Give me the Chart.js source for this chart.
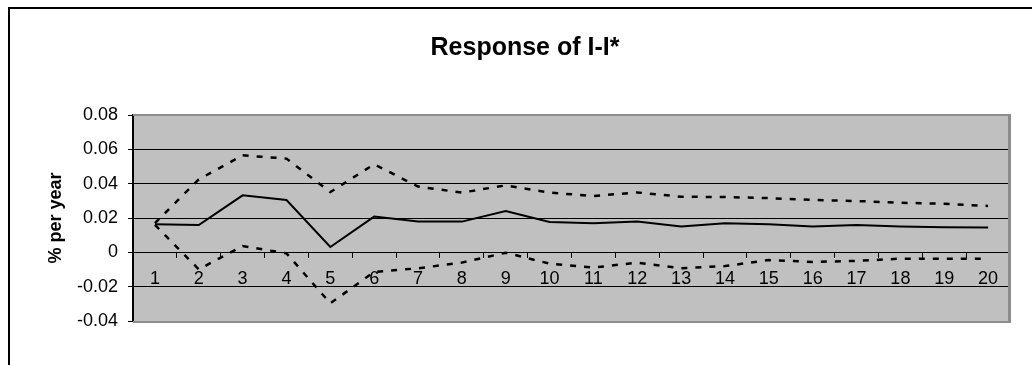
<!DOCTYPE html>
<html>
<head>
<meta charset="utf-8">
<script src="https://cdn.jsdelivr.net/npm/chart.js@4/dist/chart.umd.min.js"></script>
<style>
  html, body { margin: 0; padding: 0; background: #fff; }
  #wrap { width: 1034px; height: 365px; }
</style>
</head>
<body>
<div id="wrap"><canvas id="irf" width="1034" height="365"></canvas></div>
<script>
// horizons 1..20
const periods = ["1","2","3","4","5","6","7","8","9","10","11","12","13","14","15","16","17","18","19","20"];

// point estimate of the response
const response = [0.0163, 0.0159, 0.0332, 0.0305, 0.0031, 0.0208, 0.0179, 0.0179, 0.0241, 0.0177,
                  0.0169, 0.0179, 0.0150, 0.0169, 0.0163, 0.0151, 0.0159, 0.0150, 0.0146, 0.0144];

// confidence bands
const upperBand = [0.0170, 0.0425, 0.0565, 0.0546, 0.0351, 0.0513, 0.0383, 0.0348, 0.0390, 0.0348,
                   0.0328, 0.0349, 0.0324, 0.0322, 0.0316, 0.0305, 0.0299, 0.0289, 0.0283, 0.0270];
const lowerBand = [0.0160, -0.0099, 0.0037, -0.0006, -0.0297, -0.0114, -0.0093, -0.0060, -0.0002, -0.0066,
                   -0.0089, -0.0060, -0.0093, -0.0080, -0.0045, -0.0056, -0.0050, -0.0037, -0.0037, -0.0037];

const yMin = -0.04, yMax = 0.08, yStep = 0.02;

const FONT = "Arial, 'Liberation Sans', sans-serif";

// grey plot area + outer chart border
const excelLook = {
  id: "excelLook",
  beforeDraw(chart) {
    const ctx = chart.ctx, a = chart.chartArea;
    ctx.save();
    ctx.fillStyle = "#c0c0c0";
    ctx.fillRect(a.left, a.top, a.right - a.left, a.bottom - a.top);
    ctx.strokeStyle = "#000";
    ctx.lineWidth = 2;
    ctx.beginPath();
    ctx.moveTo(9, 365);
    ctx.lineTo(9, 8);
    ctx.lineTo(1032, 8);
    ctx.stroke();
    ctx.restore();
  },
  beforeDatasetsDraw(chart) {
    const ctx = chart.ctx, a = chart.chartArea;
    ctx.save();
    ctx.strokeStyle = "#8c8c8c";
    ctx.lineWidth = 2;
    ctx.beginPath();
    ctx.moveTo(a.left, a.top);
    ctx.lineTo(a.right, a.top);
    ctx.moveTo(a.left, a.bottom + 1);
    ctx.lineTo(a.right, a.bottom + 1);
    ctx.stroke();
    ctx.lineWidth = 3;
    ctx.beginPath();
    ctx.moveTo(a.right - 0.5, a.top - 1);
    ctx.lineTo(a.right - 0.5, a.bottom + 2);
    ctx.stroke();
    ctx.restore();
  }
};

new Chart(document.getElementById("irf"), {
  type: "line",
  data: {
    labels: periods,
    datasets: [
      { data: response, borderColor: "#000", borderWidth: 2, pointRadius: 0, fill: false },
      { data: upperBand, borderColor: "#000", borderWidth: 2.5, borderDash: [6, 8], pointRadius: 0, fill: false },
      { data: lowerBand, borderColor: "#000", borderWidth: 2.5, borderDash: [6, 8], pointRadius: 0, fill: false }
    ]
  },
  options: {
    responsive: false,
    animation: false,
    layout: { padding: { left: 40, right: 24, top: 0, bottom: 44 } },
    plugins: {
      legend: { display: false },
      tooltip: { enabled: false },
      title: {
        display: true,
        text: "Response of I-I*",
        color: "#000",
        font: { family: FONT, size: 25, weight: "bold" },
        padding: { top: 33, bottom: 52 }
      }
    },
    scales: {
      x: {
        type: "category",
        offset: true,
        position: { y: 0 },
        grid: { drawOnChartArea: false, offset: true, tickLength: 5, color: "#000", lineWidth: 1 },
        border: { display: true, color: "#000", width: 1 },
        ticks: { color: "#000", font: { family: FONT, size: 18 }, padding: 11, maxRotation: 0, autoSkip: false }
      },
      y: {
        min: yMin,
        max: yMax,
        grid: { color: "#000", lineWidth: 1, tickLength: 5 },
        border: { display: true, color: "#000", width: 2 },
        ticks: {
          stepSize: yStep,
          color: "#000",
          padding: 10,
          font: { family: FONT, size: 18 },
          callback: v => String(Math.round(v * 100) / 100)
        },
        title: {
          display: true,
          text: "% per year",
          color: "#000",
          font: { family: FONT, size: 18, weight: "bold" },
          padding: { top: 5, bottom: 0 }
        },
        afterFit(scale) { scale.width = 93; }
      }
    }
  },
  plugins: [excelLook]
});
</script>
</body>
</html>
